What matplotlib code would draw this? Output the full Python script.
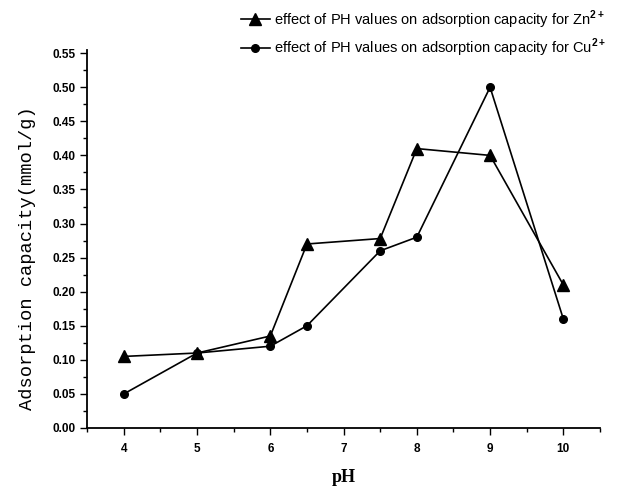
import matplotlib
matplotlib.use('Agg')
import matplotlib.pyplot as plt
from matplotlib.ticker import MultipleLocator

# adsorption capacity (mmol/g) vs pH
ph = [4, 5, 6, 6.5, 7.5, 8, 9, 10]
zn = [0.105, 0.11, 0.135, 0.27, 0.278, 0.41, 0.40, 0.21]
cu = [0.05, 0.11, 0.12, 0.15, 0.26, 0.28, 0.50, 0.16]

zn_label = r'effect of PH values on adsorption capacity for Zn$^{\mathbf{2+}}$'
cu_label = r'effect of PH values on adsorption capacity for Cu$^{\mathbf{2+}}$'

plt.rcParams['font.family'] = 'Liberation Sans'
plt.rcParams['mathtext.fontset'] = 'custom'
plt.rcParams['mathtext.rm'] = 'Liberation Sans'
plt.rcParams['mathtext.bf'] = 'Liberation Sans:bold'

fig = plt.figure(figsize=(6.23, 4.88), dpi=100)
ax = fig.add_axes([0.14, 0.123, 0.823, 0.775])

ax.plot(ph, zn, color='black', lw=1.2, marker='^', ms=8, label=zn_label)
ax.plot(ph, cu, color='black', lw=1.2, marker='o', ms=5.5, label=cu_label)

ax.set_xlim(3.5, 10.5)
ax.set_ylim(0, 0.555)
ax.xaxis.set_major_locator(MultipleLocator(1))
ax.xaxis.set_minor_locator(MultipleLocator(0.5))
ax.yaxis.set_major_locator(MultipleLocator(0.05))
ax.yaxis.set_minor_locator(MultipleLocator(0.025))
ax.set_yticklabels(['%.2f' % v for v in ax.get_yticks()])

for s in ['top', 'right']:
    ax.spines[s].set_visible(False)
for s in ['left', 'bottom']:
    ax.spines[s].set_linewidth(1.3)

ax.tick_params(which='major', direction='out', length=5, width=1, labelsize=8.5)
ax.tick_params(axis='x', which='major', pad=6)
ax.tick_params(which='minor', direction='out', length=3, width=1)
for t in ax.get_xticklabels() + ax.get_yticklabels():
    t.set_fontweight('bold')

ax.set_xlabel('pH', family='Liberation Serif', fontsize=13, fontweight='bold', labelpad=10)
ax.set_ylabel('Adsorption capacity(mmol/g)', family='Liberation Mono', fontsize=13.5)
ax.yaxis.set_label_coords(-0.1, 0.45)

fig.legend(loc='upper right', bbox_to_anchor=(0.995, 1.01), frameon=False,
           fontsize=10.5, handlelength=2.0, handletextpad=0.3, labelspacing=0.4)

fig.savefig('out.png', dpi=100)
